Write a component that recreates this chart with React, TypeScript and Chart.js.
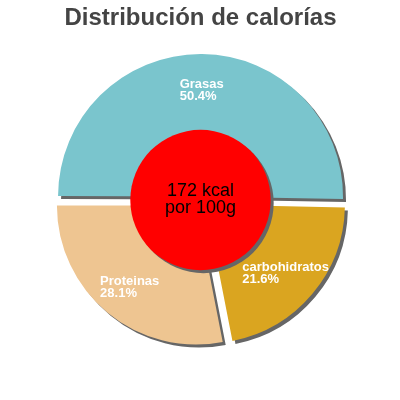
import React, { useEffect, useRef } from 'react';
import Chart from 'chart.js/auto';

// --- data ---
const labels = ['Grasas', 'carbohidratos', 'Proteinas'];
const percentages = [50.4, 21.6, 28.1];
const sliceColors = ['#7AC5CD', '#DAA520', '#EEC591'];
const explode = [14, 27.4, 28];
const centerLines = ['172 kcal', 'por 100g'];
const titleText = 'Distribución de calorías';

// shadow under the slices
const shadowPlugin = {
  id: 'sliceShadow',
  beforeDatasetsDraw(chart) {
    const ctx = chart.ctx;
    ctx.save();
    ctx.shadowColor = '#666666';
    ctx.shadowBlur = 0;
    ctx.shadowOffsetX = 3;
    ctx.shadowOffsetY = 3;
  },
  afterDatasetsDraw(chart) {
    chart.ctx.restore();
  },
};

// labels inside slices + red circle in the middle
const overlayPlugin = {
  id: 'overlay',
  afterDatasetsDraw(chart) {
    const ctx = chart.ctx;
    const arcs = chart.getDatasetMeta(0).data;
    if (!arcs.length) return;

    ctx.save();
    ctx.font = 'bold 13px "Liberation Sans", Arial, sans-serif';
    ctx.fillStyle = '#ffffff';
    ctx.textAlign = 'left';
    ctx.textBaseline = 'alphabetic';
    arcs.forEach((arc, i) => {
      const { x, y, startAngle, endAngle, outerRadius, circumference } = arc.getProps(
        ['x', 'y', 'startAngle', 'endAngle', 'outerRadius', 'circumference'], true);
      const mid = (startAngle + endAngle) / 2;
      const off = (arc.options.offset || 0) / 4;
      const fix = 1 - Math.sin(Math.min(Math.PI, circumference || 0));
      const shift = off + off * fix;
      const d = shift + outerRadius * 0.75;
      const ax = x + Math.cos(mid) * d;
      const ay = y + Math.sin(mid) * d;
      const l1 = labels[i];
      const l2 = percentages[i].toFixed(1) + '%';
      const w = Math.max(ctx.measureText(l1).width, ctx.measureText(l2).width);
      ctx.fillText(l1, ax - w / 2, ay - 1);
      ctx.fillText(l2, ax - w / 2, ay + 11);
    });
    ctx.restore();

    const { x, y, outerRadius } = arcs[0].getProps(['x', 'y', 'outerRadius'], true);
    ctx.save();
    ctx.shadowColor = '#666666';
    ctx.shadowBlur = 0;
    ctx.shadowOffsetX = 3;
    ctx.shadowOffsetY = 3;
    ctx.fillStyle = '#FF0000';
    ctx.beginPath();
    ctx.arc(x, y, outerRadius * 0.505, 0, Math.PI * 2);
    ctx.fill();
    ctx.restore();

    ctx.save();
    ctx.font = '18px "Liberation Sans", Arial, sans-serif';
    ctx.fillStyle = '#000000';
    ctx.textAlign = 'center';
    ctx.textBaseline = 'alphabetic';
    ctx.fillText(centerLines[0], x, y - 4.5);
    ctx.fillText(centerLines[1], x, y + 13.3);
    ctx.restore();
  },
};

export default function App() {
  const canvasRef = useRef(null);

  useEffect(() => {
    if (!canvasRef.current) return;
    const chart = new Chart(canvasRef.current, {
      type: 'pie',
      data: {
        labels,
        datasets: [{
          data: percentages,
          backgroundColor: sliceColors,
          borderWidth: 0,
          offset: explode,
        }],
      },
      options: {
        responsive: false,
        animation: false,
        rotation: 270,
        layout: { padding: { left: 47.5, right: 46.5, top: 0, bottom: 47 } },
        plugins: {
          legend: { display: false },
          tooltip: { enabled: false },
          title: {
            display: true,
            text: titleText,
            color: '#444444',
            font: { family: '"Liberation Sans", Arial, sans-serif', size: 24, weight: 'bold', lineHeight: 1.2 },
            padding: { top: 4, bottom: 14.2 },
          },
        },
      },
      plugins: [shadowPlugin, overlayPlugin],
    });
    return () => chart.destroy();
  }, []);

  return (
    <div style={{ position: 'absolute', left: 0, top: 0, width: 400, height: 400, background: '#fff' }}>
      <canvas ref={canvasRef} width={400} height={400}></canvas>
    </div>
  );
}
